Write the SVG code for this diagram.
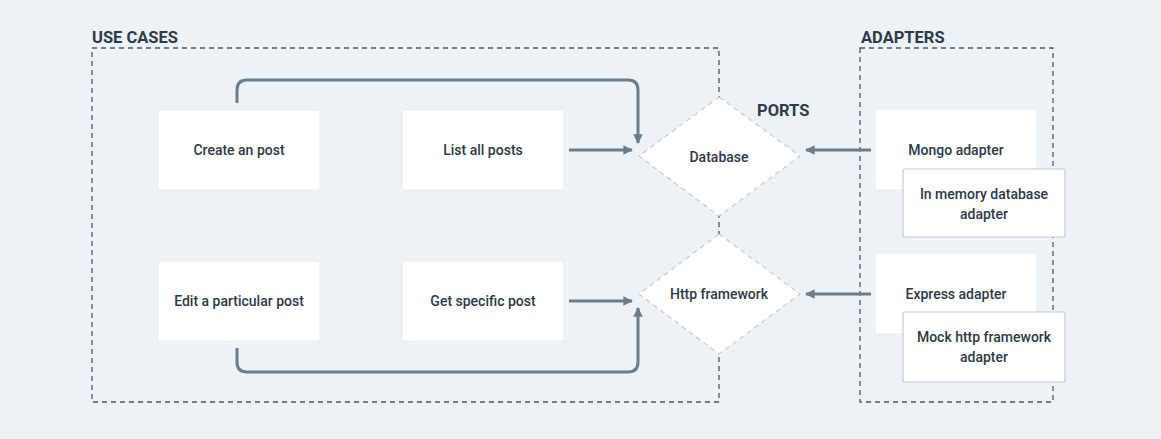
<svg xmlns="http://www.w3.org/2000/svg" width="1161" height="439" viewBox="0 0 1161 439">
<defs>
<marker id="ah" viewBox="0 0 10 10" refX="9" refY="5" markerWidth="3.2" markerHeight="3.2" orient="auto" markerUnits="strokeWidth">
<path d="M0,0 L10,5 L0,10 z" fill="#6b7c8b"/>
</marker>
<style>
.lbl{font-family:Roboto,"Liberation Sans",sans-serif;font-size:14px;font-weight:500;fill:#2d3a48;text-anchor:middle;dominant-baseline:central}
.hd{font-family:Roboto,"Liberation Sans",sans-serif;font-size:16.5px;font-weight:bold;fill:#2d3a48}
.card{fill:#ffffff;stroke:#e3e9ef;stroke-width:0.8}
.card2{fill:#ffffff;stroke:#c2ccd6;stroke-width:1.2}
.grp{fill:none;stroke:#4c5866;stroke-width:1.3;stroke-dasharray:5 4}
.dia{fill:#ffffff;stroke:#c3ccd6;stroke-width:1.2;stroke-dasharray:5 4}
.con{fill:none;stroke:#6b7c8b;stroke-width:3;marker-end:url(#ah)}
</style>
</defs>
<rect width="1161" height="439" fill="#edf2f7"/>
<g id="usecases-group">
<rect class="grp" x="92" y="48" width="627" height="354"/>
<text class="hd" x="92" y="43">USE CASES</text>
</g>
<g id="adapters-group">
<rect class="grp" x="860" y="48" width="193" height="354"/>
<text class="hd" x="861" y="43">ADAPTERS</text>
</g>
<text class="hd" x="757" y="116">PORTS</text>
<g id="connectors">
<path class="con" d="M237,103 V90 Q237,80 247,80 H628 Q638,80 638,90 V143"/>
<path class="con" d="M569,150 H632"/>
<path class="con" d="M237,348 V362 Q237,372 247,372 H628 Q638,372 638,362 V308"/>
<path class="con" d="M569,301 H632"/>
<path class="con" d="M871,150 H806"/>
<path class="con" d="M871,294 H806"/>
</g>
<g id="create-post">
<rect class="card" x="158" y="110" width="162" height="80" rx="2"/>
<text class="lbl" x="239" y="150">Create an post</text>
</g>
<g id="list-posts">
<rect class="card" x="402" y="110" width="162" height="80" rx="2"/>
<text class="lbl" x="483" y="150">List all posts</text>
</g>
<g id="edit-post">
<rect class="card" x="158" y="261" width="162" height="80" rx="2"/>
<text class="lbl" x="239" y="301">Edit a particular post</text>
</g>
<g id="get-post">
<rect class="card" x="402" y="261" width="162" height="80" rx="2"/>
<text class="lbl" x="483" y="301">Get specific post</text>
</g>
<g id="database-port">
<polygon class="dia" points="719,97 800,156 719,216 639,156"/>
<text class="lbl" x="719" y="157">Database</text>
</g>
<g id="http-port">
<polygon class="dia" points="719,234 800,294 719,354 639,294"/>
<text class="lbl" x="719" y="294">Http framework</text>
</g>
<g id="mongo-adapter">
<rect class="card" x="875" y="109" width="162" height="81" rx="2"/>
<text class="lbl" x="956" y="150">Mongo adapter</text>
</g>
<g id="memory-adapter">
<rect class="card2" x="903" y="169" width="162" height="68" rx="2"/>
<text class="lbl" x="984" y="194">In memory database</text>
<text class="lbl" x="984" y="214">adapter</text>
</g>
<g id="express-adapter">
<rect class="card" x="875" y="253" width="162" height="81" rx="2"/>
<text class="lbl" x="956" y="294">Express adapter</text>
</g>
<g id="mock-http-adapter">
<rect class="card2" x="903" y="312" width="162" height="70" rx="2"/>
<text class="lbl" x="984" y="337">Mock http framework</text>
<text class="lbl" x="984" y="357">adapter</text>
</g>
</svg>
